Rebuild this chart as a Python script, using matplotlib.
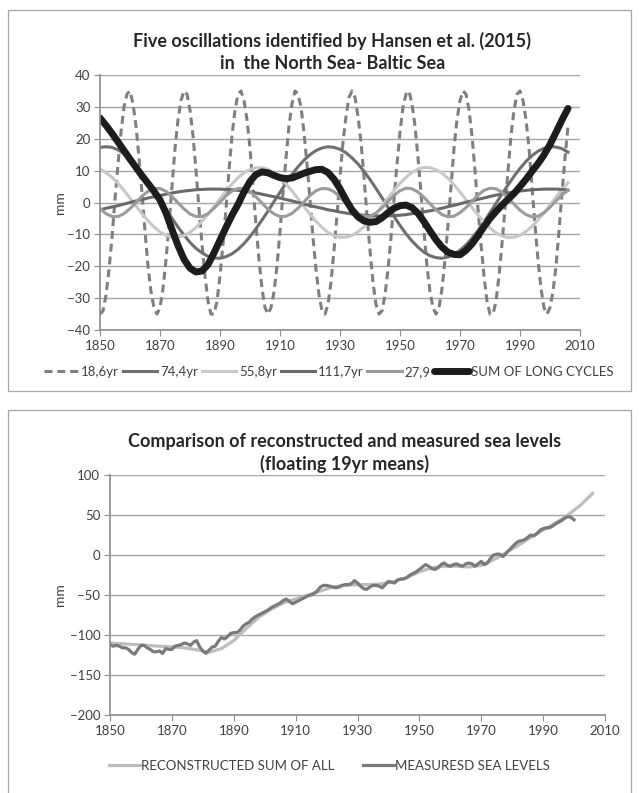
import matplotlib.pyplot as plt
from matplotlib.patches import Rectangle

plt.rcParams["font.family"] = ["Lato", "DejaVu Sans"]

# top chart: yearly values for the 18.6 yr cycle, two-yearly for the rest
years = list(range(1850, 2007))
years_2 = list(range(1850, 2007, 2))

osc_18_6 = [
    -35, -34, -29, -21, -11, 1, 12, 22, 30, 34,
    35, 31, 24, 14, 3, -9, -20, -28, -33, -35,
    -33, -27, -18, -7, 5, 17, 26, 32, 35, 34,
    29, 21, 10, -2, -13, -23, -31, -35, -35, -31,
    -23, -13, -2, 10, 21, 29, 34, 35, 32, 26,
    17, 5, -7, -18, -27, -33, -35, -33, -28, -20,
    -9, 3, 14, 24, 31, 35, 34, 30, 22, 12,
    1, -11, -21, -29, -34, -35, -32, -25, -15, -4,
    8, 19, 27, 33, 35, 33, 27, 19, 8, -4,
    -15, -25, -32, -35, -34, -29, -21, -11, 1, 12,
    22, 30, 34, 35, 31, 24, 14, 3, -9, -20,
    -28, -33, -35, -33, -27, -18, -7, 5, 17, 26,
    32, 35, 34, 29, 21, 10, -2, -13, -23, -31,
    -35, -35, -31, -23, -13, -2, 10, 21, 29, 34,
    35, 32, 26, 17, 5, -7, -18, -27, -33, -35,
    -33, -28, -20, -9, 3, 14, 24,
]
osc_74_4 = [
    17.3, 17.5, 17.3, 16.5, 15.3, 13.7, 11.6, 9.3, 6.6, 3.8,
    0.9, -2.1, -5.0, -7.7, -10.2, -12.5, -14.4, -15.8, -16.9, -17.4,
    -17.5, -17.0, -16.1, -14.7, -12.9, -10.7, -8.2, -5.5, -2.7, 0.3,
    3.2, 6.1, 8.8, 11.2, 13.3, 15.0, 16.3, 17.1, 17.5, 17.3,
    16.7, 15.6, 14.0, 12.1, 9.8, 7.2, 4.4, 1.5, -1.5, -4.4,
    -7.2, -9.8, -12.1, -14.0, -15.6, -16.7, -17.3, -17.5, -17.1, -16.3,
    -15.0, -13.3, -11.2, -8.8, -6.1, -3.2, -0.3, 2.7, 5.5, 8.2,
    10.7, 12.9, 14.7, 16.1, 17.0, 17.5, 17.4, 16.9, 15.8,
]
osc_55_8 = [
    10.5, 9.4, 7.9, 6.0, 3.8, 1.4, -1.1, -3.5, -5.7, -7.7,
    -9.2, -10.3, -10.9, -10.9, -10.4, -9.4, -7.8, -5.9, -3.7, -1.3,
    1.2, 3.6, 5.8, 7.8, 9.3, 10.4, 10.9, 10.9, 10.4, 9.3,
    7.8, 5.8, 3.6, 1.2, -1.3, -3.7, -5.9, -7.8, -9.4, -10.4,
    -10.9, -10.9, -10.3, -9.2, -7.7, -5.7, -3.5, -1.1, 1.4, 3.8,
    6.0, 7.9, 9.4, 10.5, 11.0, 10.9, 10.3, 9.2, 7.6, 5.6,
    3.3, 0.9, -1.6, -3.9, -6.1, -8.0, -9.5, -10.5, -11.0, -10.9,
    -10.3, -9.1, -7.5, -5.5, -3.2, -0.8, 1.7, 4.1, 6.2,
]
osc_111_7 = [
    -2.3, -1.8, -1.4, -1.0, -0.5, 0.0, 0.5, 0.9, 1.4, 1.8,
    2.2, 2.6, 3.0, 3.3, 3.6, 3.8, 4.0, 4.1, 4.2, 4.2,
    4.2, 4.1, 4.0, 3.8, 3.6, 3.3, 3.0, 2.6, 2.2, 1.8,
    1.4, 0.9, 0.5, 0.0, -0.5, -1.0, -1.4, -1.8, -2.3, -2.6,
    -3.0, -3.3, -3.6, -3.8, -4.0, -4.1, -4.2, -4.2, -4.2, -4.1,
    -4.0, -3.8, -3.5, -3.3, -2.9, -2.6, -2.2, -1.8, -1.3, -0.9,
    -0.4, 0.1, 0.5, 1.0, 1.4, 1.9, 2.3, 2.7, 3.0, 3.3,
    3.6, 3.8, 4.0, 4.1, 4.2, 4.2, 4.2, 4.1, 3.9,
]
osc_27_9 = [
    -1.9, -3.5, -4.4, -4.4, -3.5, -1.9, 0.0, 2.0, 3.5, 4.4,
    4.4, 3.5, 1.9, -0.1, -2.0, -3.6, -4.4, -4.4, -3.5, -1.8,
    0.1, 2.1, 3.6, 4.4, 4.4, 3.4, 1.8, -0.2, -2.1, -3.6,
    -4.4, -4.3, -3.4, -1.8, 0.2, 2.2, 3.7, 4.4, 4.3, 3.4,
    1.7, -0.3, -2.2, -3.7, -4.4, -4.3, -3.3, -1.7, 0.3, 2.3,
    3.7, 4.5, 4.3, 3.3, 1.6, -0.4, -2.3, -3.8, -4.5, -4.3,
    -3.2, -1.6, 0.4, 2.3, 3.8, 4.5, 4.3, 3.2, 1.5, -0.5,
    -2.4, -3.8, -4.5, -4.3, -3.2, -1.5, 0.5, 2.4, 3.8,
]
sum_long = [
    26.5, 24.2, 21.7, 19.0, 16.3, 13.6, 11.0, 8.4, 6.0, 3.5,
    0.8, -3.3, -8.5, -13.5, -17.8, -20.6, -21.8, -21.5, -19.5, -15.8,
    -11.8, -7.8, -4.0, -0.6, 3.3, 6.6, 8.8, 9.6, 9.3, 8.5,
    7.8, 7.5, 7.7, 8.4, 9.2, 9.8, 10.3, 10.4, 9.4, 7.3,
    4.3, 0.8, -2.3, -4.5, -5.8, -6.2, -6.0, -4.8, -3.2, -1.8,
    -1.0, -0.8, -1.6, -3.4, -6.0, -8.9, -11.7, -14.0, -15.6, -16.3,
    -16.4, -15.0, -13.0, -10.4, -7.6, -5.0, -2.8, -0.8, 1.0, 2.8,
    5.0, 7.3, 9.8, 12.2, 14.9, 18.2, 22.0, 25.9, 29.5,
]
top_labels = ["18,6yr", "74,4yr", "55,8yr", "111,7yr", "27,9", "SUM OF LONG CYCLES"]

# bottom chart
measured_years = list(range(1850, 2001))
measured = [
    -112, -114, -113, -114, -116, -116, -118, -122, -124, -118,
    -113, -113, -116, -118, -121, -121, -120, -123, -117, -118,
    -118, -114, -113, -112, -110, -111, -113, -109, -107, -115,
    -120, -123, -119, -115, -114, -108, -103, -105, -102, -98,
    -97, -97, -94, -89, -86, -84, -80, -77, -75, -73,
    -71, -69, -66, -64, -62, -60, -57, -55, -58, -61,
    -59, -57, -55, -53, -51, -50, -48, -45, -40, -38,
    -38, -39, -40, -41, -40, -38, -37, -37, -36, -32,
    -35, -39, -42, -43, -40, -38, -38, -39, -41, -37,
    -33, -34, -35, -31, -30, -30, -28, -25, -23, -21,
    -18, -15, -12, -14, -17, -18, -16, -12, -10, -13,
    -14, -12, -11, -13, -14, -11, -10, -11, -14, -11,
    -8, -12, -10, -4, 0, 1, 1, -2, 2, 6,
    10, 14, 17, 18, 19, 22, 25, 24, 27, 31,
    33, 34, 34, 36, 39, 41, 43, 46, 48, 47,
    44,
]
recon_years = list(range(1850, 2007, 4))
recon = [
    -110, -111, -112, -113, -114, -115, -116, -118.5, -121.5, -117,
    -107, -92, -78, -68, -60, -55, -50, -45, -40, -38,
    -37, -37, -36, -33, -28, -21, -16, -14, -14, -15,
    -13, -6, 3, 12, 22, 31, 40, 50, 62, 77,
]
bottom_labels = ["RECONSTRUCTED SUM OF ALL", "MEASURESD SEA LEVELS"]
x_ticks = list(range(1850, 2011, 20))

W, H = 639, 793
fig = plt.figure(figsize=(W / 100, H / 100), dpi=100)


def box(x0, y0, x1, y1):
    return [x0 / W, 1 - y1 / H, (x1 - x0) / W, (y1 - y0) / H]


def style_axes(ax, ymin, ymax, ystep, label_x):
    ax.set_xlim(1850, 2010)
    ax.set_ylim(ymin, ymax)
    ax.set_xticks(x_ticks)
    ax.set_yticks(range(ymin, ymax + 1, ystep))
    ax.grid(axis="y", color="#a6a6a6", lw=1)
    ax.set_axisbelow(True)
    for side in ("top", "right"):
        ax.spines[side].set_visible(False)
    for side in ("left", "bottom"):
        ax.spines[side].set_color("#8c8c8c")
        ax.spines[side].set_linewidth(1.2)
    ax.tick_params(colors="#8c8c8c", labelcolor="#404040", labelsize=9.5,
                   length=4, width=0.8, pad=3)
    ax.set_ylabel("mm", fontsize=10, color="#404040")
    ax.yaxis.set_label_coords(label_x, 0.5)


for y0, y1 in ((10, 391), (410, 800)):
    fig.patches.append(Rectangle(
        (8 / W, 1 - y1 / H), 623 / W, (y1 - y0) / H,
        transform=fig.transFigure, fill=False, ec="#a6a6a6", lw=0.9))

# top chart
ax1 = fig.add_axes(box(100, 75, 580, 330))
h1 = []
h1 += ax1.plot(years, osc_18_6, color="#7f7f7f", lw=2.2, ls=(0, (2.6, 1.6)))
h1 += ax1.plot(years_2, osc_74_4, color="#6f6f6f", lw=2.2)
h1 += ax1.plot(years_2, osc_55_8, color="#c8c8c8", lw=2.2)
h1 += ax1.plot(years_2, osc_111_7, color="#6a6a6a", lw=2.2)
h1 += ax1.plot(years_2, osc_27_9, color="#9b9b9b", lw=2.2)
h1 += ax1.plot(years_2, sum_long, color="#1c1c1c", lw=5, solid_capstyle="round")
style_axes(ax1, -40, 40, 10, -0.07)
fig.text(0.52, 1 - 52 / H, "Five oscillations identified by Hansen et al. (2015)\nin  the North Sea- Baltic Sea",
         ha="center", va="center", fontsize=13, fontweight="bold",
         color="#262626", linespacing=1.3)
fig.legend(h1, top_labels, loc="center", bbox_to_anchor=(0.515, 1 - 372 / H),
           ncol=6, frameon=False, fontsize=9.5, handlelength=2.6,
           handletextpad=0.2, columnspacing=0.3, labelcolor="#404040")

# bottom chart
ax2 = fig.add_axes(box(110, 475, 605, 715))
h2 = []
h2 += ax2.plot(recon_years, recon, color="#bdbdbd", lw=2.3)
h2 += ax2.plot(measured_years, measured, color="#7a7a7a", lw=2.3)
style_axes(ax2, -200, 100, 50, -0.089)
fig.text(0.54, 1 - 453 / H, "Comparison of reconstructed and measured sea levels\n(floating 19yr means)",
         ha="center", va="center", fontsize=13, fontweight="bold",
         color="#262626", linespacing=1.3)
fig.legend(h2, bottom_labels, loc="center", bbox_to_anchor=(0.516, 1 - 766 / H),
           ncol=2, frameon=False, fontsize=9.5, handlelength=2.3,
           handletextpad=0.1, columnspacing=2.2, labelcolor="#404040")

fig.savefig("out.png", dpi=100)
